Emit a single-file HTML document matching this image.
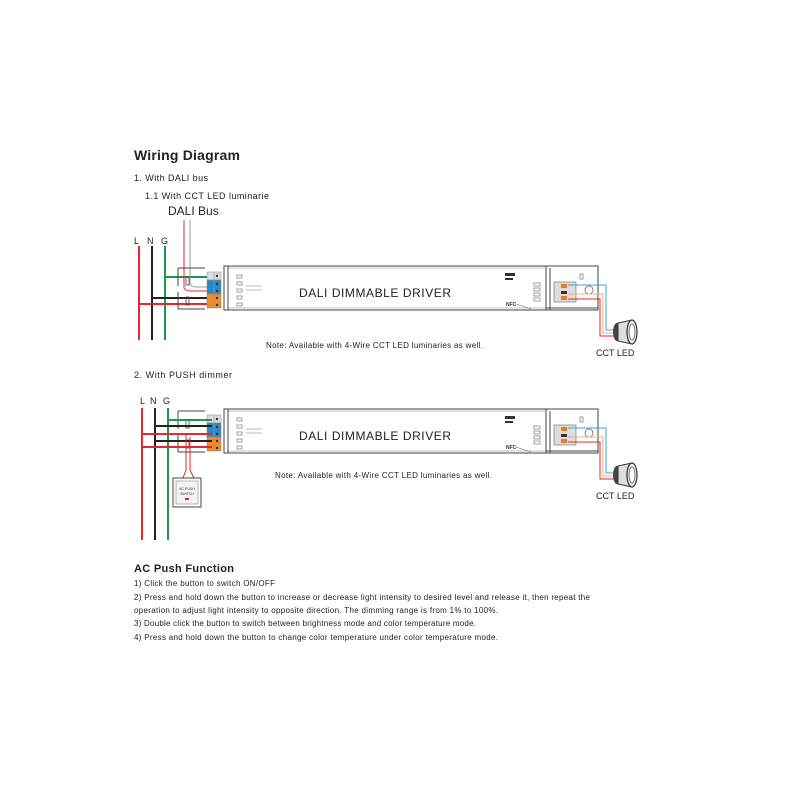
<!DOCTYPE html>
<html><head><meta charset="utf-8"><style>
body{margin:0;background:#fff;}
svg{display:block;font-family:"Liberation Sans",Arial,sans-serif;}
</style></head><body>
<svg width="800" height="800" viewBox="0 0 800 800" xmlns="http://www.w3.org/2000/svg">
<rect width="800" height="800" fill="#fff"/>
<text x="134" y="160" font-size="14" font-weight="bold" fill="#222" textLength="106">Wiring Diagram</text>
<text x="134" y="181" font-size="9" fill="#222" textLength="74">1. With DALI bus</text>
<text x="145" y="199" font-size="9" fill="#222" textLength="124">1.1 With CCT LED luminarie</text>
<text x="168" y="215" font-size="12" fill="#222">DALI Bus</text>

<g stroke-width="2" fill="none">
<line x1="139" y1="246" x2="139" y2="340" stroke="#e8262d"/>
<line x1="152" y1="246" x2="152" y2="340" stroke="#222"/>
<line x1="165" y1="246" x2="165" y2="340" stroke="#1a9a4a"/>
<line x1="165" y1="277" x2="212" y2="277" stroke="#1a9a4a"/>
<line x1="152" y1="298" x2="212" y2="298" stroke="#222"/>
<line x1="139" y1="304" x2="212" y2="304" stroke="#e8262d"/>
</g>
<path d="M184 220 L184 288 Q186 291 190 291 L212 291" stroke="#e8262d" stroke-width="1" fill="none"/>
<path d="M190 220 L190 284 Q192 287 196 287 L212 287" stroke="#999" stroke-width="1" fill="none"/>

<g id="drv">
<path d="M178 268 L205 268 M178 309 L205 309 M178 268 L178 286 M178 292 L178 309" stroke="#444" stroke-width="1" fill="none"/>
<rect x="186" y="277" width="3" height="8" fill="none" stroke="#444" stroke-width="0.8"/>
<rect x="186" y="297" width="3" height="8" fill="none" stroke="#444" stroke-width="0.8"/>
<rect x="207" y="272" width="14" height="8" fill="#ddd" stroke="#888" stroke-width="0.5"/>
<rect x="207" y="280" width="14" height="14" fill="#2b88c8" stroke="#888" stroke-width="0.5"/>
<rect x="207" y="294" width="14" height="14" fill="#ee8a2a" stroke="#888" stroke-width="0.5"/>
<line x1="214" y1="272" x2="214" y2="308" stroke="#999" stroke-width="0.6"/>
<g fill="#333"><circle cx="217" cy="276" r="1.2"/><circle cx="217" cy="284" r="1.2"/><circle cx="217" cy="291" r="1.2"/><circle cx="217" cy="298" r="1.2"/><circle cx="217" cy="305" r="1.2"/></g>
<rect x="224" y="266" width="324" height="44" fill="#fff" stroke="#444" stroke-width="1"/>
<line x1="228" y1="268" x2="545" y2="268" stroke="#888" stroke-width="0.6"/>
<line x1="228" y1="308" x2="545" y2="308" stroke="#888" stroke-width="0.6"/>
<line x1="228" y1="266" x2="228" y2="310" stroke="#444" stroke-width="1"/>
<g fill="none" stroke="#666" stroke-width="0.6">
<rect x="237" y="275" width="5" height="3"/><rect x="237" y="282" width="5" height="3"/><rect x="237" y="289" width="5" height="3"/><rect x="237" y="296" width="5" height="3"/><rect x="237" y="303" width="5" height="3"/>
<rect x="534" y="283" width="6" height="3"/><rect x="534" y="288" width="6" height="3"/><rect x="534" y="293" width="6" height="3"/><rect x="534" y="298" width="6" height="3"/>
</g>
<path d="M246 286 L262 286 M246 290 L262 290" stroke="#777" stroke-width="0.5"/>
<text x="375" y="297" font-size="12" fill="#222" text-anchor="middle" textLength="152">DALI DIMMABLE DRIVER</text>
<rect x="505" y="273" width="10" height="3" fill="#333"/><rect x="505" y="278" width="8" height="2" fill="#333"/>
<text x="506" y="306" font-size="5" font-weight="bold" fill="#333">NFC</text>
<path d="M516 304 L531 309" stroke="#555" stroke-width="0.5"/>
<rect x="546" y="266" width="52" height="44" fill="#fff" stroke="#444" stroke-width="1"/>
<line x1="550" y1="268" x2="550" y2="310" stroke="#444" stroke-width="1"/>
<line x1="546" y1="308" x2="598" y2="308" stroke="#444" stroke-width="1"/>
<rect x="554" y="282" width="22" height="20" fill="#ddd" stroke="#666" stroke-width="0.6"/>
<rect x="561" y="284" width="6" height="4" fill="#ee7a22"/><rect x="561" y="291" width="6" height="3" fill="#333"/><rect x="561" y="296" width="6" height="4" fill="#ee7a22"/>
<circle cx="589" cy="290" r="4" fill="none" stroke="#555" stroke-width="0.7"/>
<rect x="580" y="274" width="3" height="5" fill="none" stroke="#555" stroke-width="0.6"/>
<path d="M568 285 L606 285 L606 330 L614 330" stroke="#3aa9d8" stroke-width="1" fill="none"/>
<path d="M568 294 L603 294 L603 333 L614 333" stroke="#f0b07a" stroke-width="1" fill="none"/>
<path d="M568 299 L600 299 L600 336 L614 336" stroke="#e8262d" stroke-width="1" fill="none"/>
<ellipse cx="617" cy="332" rx="4" ry="9" fill="#444"/>
<path d="M618 323 L632 320 L632 344 L618 341 Z" fill="#ddd" stroke="#333" stroke-width="1"/>
<ellipse cx="632" cy="332" rx="5" ry="12" fill="#eee" stroke="#333" stroke-width="1.2"/>
<ellipse cx="632" cy="332" rx="3" ry="8" fill="#fff" stroke="#555" stroke-width="0.8"/>
</g>
<text x="266" y="348" font-size="8" fill="#222" textLength="217">Note: Available with 4-Wire CCT LED luminaries as well.</text>
<text x="596" y="356" font-size="9" fill="#222">CCT LED</text>

<text x="134" y="378" font-size="9" fill="#222" textLength="98">2. With PUSH dimmer</text>
<text x="140" y="404" font-size="9" fill="#222">L</text>
<text x="150" y="404" font-size="9" fill="#222">N</text>
<text x="163" y="404" font-size="9" fill="#222">G</text>
<text x="134" y="244" font-size="9" fill="#222">L</text>
<text x="147" y="244" font-size="9" fill="#222">N</text>
<text x="161" y="244" font-size="9" fill="#222">G</text>
<g transform="translate(0,143)">
<use href="#drv"/>
</g>
<g stroke-width="2" fill="none">
<line x1="142" y1="408" x2="142" y2="540" stroke="#e8262d"/>
<line x1="155" y1="408" x2="155" y2="540" stroke="#222"/>
<line x1="168" y1="408" x2="168" y2="540" stroke="#1a9a4a"/>
<line x1="168" y1="420" x2="212" y2="420" stroke="#1a9a4a"/>
<line x1="155" y1="426" x2="212" y2="426" stroke="#222"/>
<line x1="142" y1="434" x2="212" y2="434" stroke="#e8262d"/>
<line x1="155" y1="441" x2="212" y2="441" stroke="#222"/>
<line x1="142" y1="447" x2="212" y2="447" stroke="#e8262d"/>
</g>
<path d="M186 434 L186 470 L183 478 M190 437 L190 470 L194 478" stroke="#e8262d" stroke-width="1" fill="none"/>
<rect x="173" y="478" width="28" height="29" fill="#fff" stroke="#444" stroke-width="1"/>
<rect x="176" y="481" width="22" height="23" fill="#f4f4f4" stroke="#777" stroke-width="0.5"/>
<text x="187" y="490" font-size="3.5" text-anchor="middle" fill="#333">AC PUSH</text>
<text x="187" y="495" font-size="3.5" text-anchor="middle" fill="#333">SWITCH</text>
<rect x="185" y="498" width="4" height="2" fill="#e8262d"/>
<text x="275" y="478" font-size="8" fill="#222" textLength="217">Note: Available with 4-Wire CCT LED luminaries as well.</text>
<text x="596" y="499" font-size="9" fill="#222">CCT LED</text>

<text x="134" y="572" font-size="11" font-weight="bold" fill="#222" textLength="100">AC Push Function</text>
<g font-size="8" fill="#222">
<text x="134" y="586" textLength="141">1) Click the button to switch ON/OFF</text>
<text x="134" y="600" textLength="456">2) Press and hold down the button to increase or decrease light intensity to desired level and release it, then repeat the</text>
<text x="134" y="613" textLength="364">operation to adjust light intensity to opposite direction. The dimming range is from 1% to 100%.</text>
<text x="134" y="626" textLength="342">3) Double click the button to switch between brightness mode and color temperature mode.</text>
<text x="134" y="640" textLength="364">4) Press and hold down the button to change color temperature under color temperature mode.</text>
</g>
</svg>
</body></html>
